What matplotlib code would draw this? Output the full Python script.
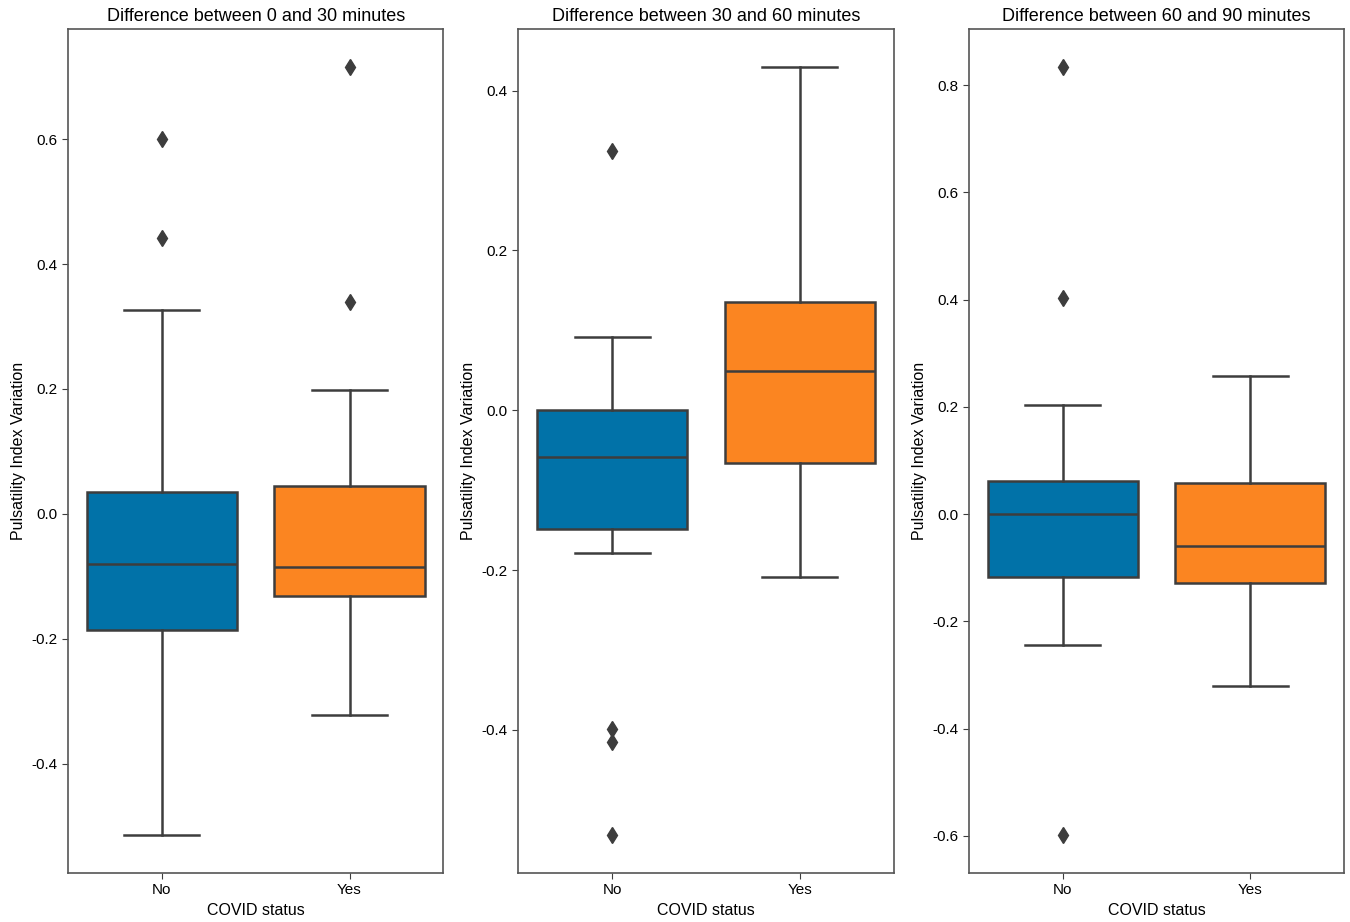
import matplotlib
matplotlib.use('Agg')
import matplotlib.pyplot as plt

plt.rcParams['font.family'] = ['Liberation Sans', 'DejaVu Sans']
plt.rcParams['axes.unicode_minus'] = False

# values (quartiles, whiskers, outliers)
titles = ['Difference between 0 and 30 minutes',
          'Difference between 30 and 60 minutes',
          'Difference between 60 and 90 minutes']
groups = ['No', 'Yes']

whislo = [[-0.514, -0.323], [-0.178, -0.208], [-0.245, -0.320]]
q1 = [[-0.186, -0.131], [-0.148, -0.066], [-0.117, -0.128]]
med = [[-0.080, -0.085], [-0.058, 0.049], [0.000, -0.060]]
q3 = [[0.035, 0.045], [0.000, 0.136], [0.062, 0.057]]
whishi = [[0.326, 0.198], [0.092, 0.429], [0.203, 0.257]]
fliers = [[[0.600, 0.441], [0.715, 0.339]],
          [[0.325, -0.399, -0.415, -0.531], []],
          [[0.833, 0.403, -0.598], []]]

colors = ['#0172a8', '#fb8521']
line_col = '#3d3d3d'
lw = 1.8

fig, axes = plt.subplots(1, 3, figsize=(13.5, 9.22), dpi=100)
fig.subplots_adjust(left=0.0504, right=0.9956, top=0.9685, bottom=0.0531, wspace=0.2)

for i, ax in enumerate(axes):
    stats = []
    for j, g in enumerate(groups):
        stats.append({'label': g, 'whislo': whislo[i][j], 'q1': q1[i][j], 'med': med[i][j],
                      'q3': q3[i][j], 'whishi': whishi[i][j], 'fliers': fliers[i][j]})
    bp = ax.bxp(stats, positions=[0, 1], widths=0.8, capwidths=0.4, patch_artist=True,
                boxprops=dict(edgecolor=line_col, linewidth=lw),
                medianprops=dict(color=line_col, linewidth=lw),
                whiskerprops=dict(color=line_col, linewidth=lw),
                capprops=dict(color=line_col, linewidth=lw),
                flierprops=dict(marker='d', markerfacecolor=line_col, markeredgecolor=line_col,
                                markersize=8, linestyle='none'))
    for patch, c in zip(bp['boxes'], colors):
        patch.set_facecolor(c)
    ax.set_xlim(-0.5, 1.5)
    ax.set_xticks([0, 1])
    ax.set_xticklabels(groups)
    ax.set_title(titles[i], fontsize=13, pad=6)
    ax.set_xlabel('COVID status', fontsize=11.5)
    ax.set_ylabel('Pulsatility Index Variation', fontsize=11.5)
    ax.tick_params(labelsize=11, length=4, color=line_col)
    for s in ax.spines.values():
        s.set_color('#555555')
        s.set_linewidth(1.2)

fig.savefig('out.png', dpi=100)
